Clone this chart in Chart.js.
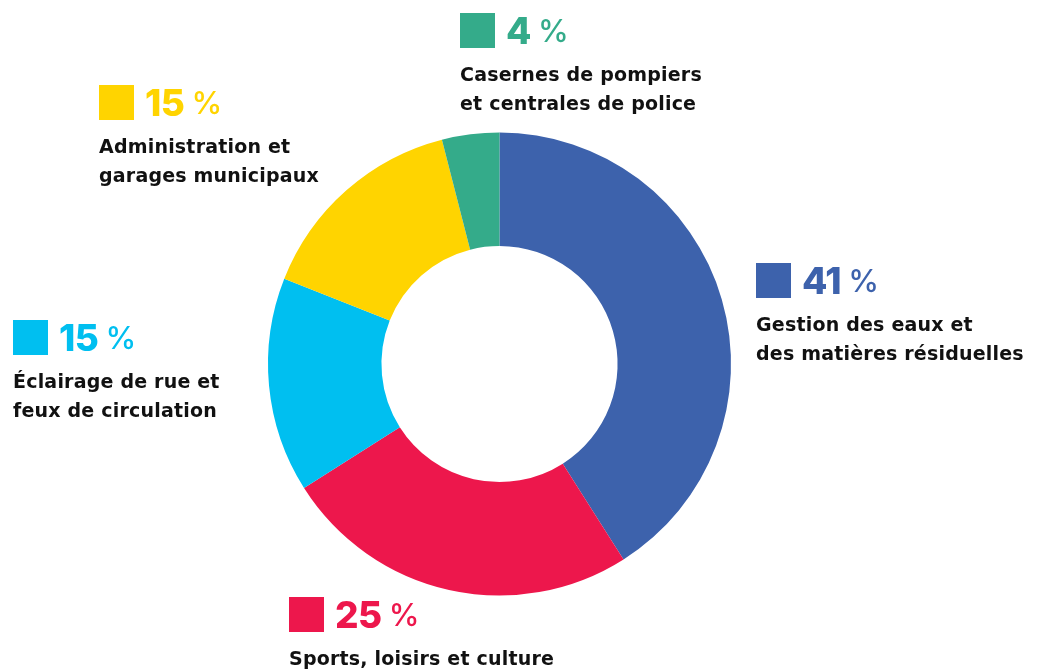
<!DOCTYPE html>
<html>
<head>
<meta charset="utf-8">
<script src="https://cdn.jsdelivr.net/npm/chart.js@4"></script>
<style>
  html, body { margin: 0; padding: 0; background: #fff; }
  #wrap { position: relative; width: 1038px; height: 669px; overflow: hidden; }
  #myChart { position: absolute; left: 0; top: 0; }
  .lbl { position: absolute; font-family: Inter, "Noto Sans", sans-serif; color: #111; }
  .lbl .head { display: flex; align-items: center; height: 35px; }
  .lbl .sq { width: 35px; height: 35px; margin-right: 11px; }
  .lbl .num { font-size: 37px; font-weight: 800; letter-spacing: -0.5px; line-height: 35px; }
  .lbl .pct { font-size: 31px; font-weight: 500; margin-left: 7px; line-height: 35px; }
  .lbl .txt { font-family: "DejaVu Sans", sans-serif; font-size: 19px; font-weight: 700;
              line-height: 28.5px; margin-top: 12px; white-space: nowrap; letter-spacing: 0.2px; }
</style>
</head>
<body>
<div id="wrap">
  <canvas id="myChart" width="1038" height="669"></canvas>
</div>
<script>
const categories = [
  "Gestion des eaux et\ndes matières résiduelles",
  "Sports, loisirs et culture",
  "Éclairage de rue et\nfeux de circulation",
  "Administration et\ngarages municipaux",
  "Casernes de pompiers\net centrales de police"
];
const values = [41, 25, 15, 15, 4];
const sliceColors = ["#3d62ac", "#ed174c", "#00bff0", "#ffd400", "#34ab8a"];

// where each label block sits (top-left of its colour square)
const labelPos = [
  [756, 263],
  [289, 597],
  [13, 320],
  [99, 85],
  [460, 13]
];

const wrap = document.getElementById("wrap");
categories.forEach(function (cat, i) {
  const el = document.createElement("div");
  el.className = "lbl";
  el.style.left = labelPos[i][0] + "px";
  el.style.top = labelPos[i][1] + "px";
  el.innerHTML =
    '<div class="head"><div class="sq" style="background:' + sliceColors[i] + '"></div>' +
    '<span class="num" style="color:' + sliceColors[i] + '">' + values[i] + '</span>' +
    '<span class="pct" style="color:' + sliceColors[i] + '">%</span></div>' +
    '<div class="txt">' + cat.split("\n").join("<br>") + '</div>';
  wrap.appendChild(el);
});

new Chart("myChart", {
  type: "doughnut",
  data: {
    labels: categories,
    datasets: [{
      data: values,
      backgroundColor: sliceColors,
      borderWidth: 0
    }]
  },
  options: {
    responsive: false,
    animation: false,
    cutout: "51%",
    layout: {
      padding: { left: 268, top: 132.5, right: 307, bottom: 73.5 }
    },
    plugins: {
      legend: { display: false },
      tooltip: { enabled: false }
    }
  }
});
</script>
</body>
</html>
